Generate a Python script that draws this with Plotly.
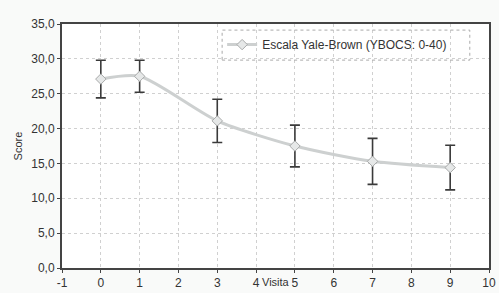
import plotly.graph_objects as go

visits = [0, 1, 3, 5, 7, 9]
score = [27.1, 27.5, 21.1, 17.5, 15.3, 14.4]
err = [2.7, 2.3, 3.1, 3.0, 3.3, 3.2]
series_name = "Escala Yale-Brown (YBOCS: 0-40)"
x_ticks = list(range(-1, 11))
y_ticks = [0, 5, 10, 15, 20, 25, 30, 35]
y_labels = [f"{v:.1f}".replace(".", ",") for v in y_ticks]

font = "Liberation Sans, Arial, sans-serif"

fig = go.Figure()
fig.add_trace(go.Scatter(
    x=visits, y=score, name=series_name, mode="lines+markers",
    line=dict(color="#cdd0d0", width=3, shape="spline", smoothing=0.7),
    marker=dict(symbol="diamond", size=8, color="#e6e8e8",
                line=dict(color="#a8aaaa", width=1)),
    error_y=dict(type="data", array=err, visible=True, color="#3a3a3a",
                 thickness=1.6, width=5),
))

fig.update_layout(
    width=499, height=293,
    margin=dict(l=62, r=10, t=24, b=25),
    paper_bgcolor="#f9faf9", plot_bgcolor="#ffffff",
    font=dict(family=font, size=11, color="#333"),
    showlegend=True,
    legend=dict(x=0.375, y=0.975, xanchor="left", yanchor="top",
                bgcolor="rgba(0,0,0,0)", font=dict(size=12, color="#333"),
                itemwidth=30, borderwidth=0),
    xaxis=dict(range=[-1, 10], tickvals=x_ticks, ticktext=[str(v) for v in x_ticks],
               showgrid=True, gridcolor="#d0d0d0", griddash="dot", gridwidth=1,
               showline=True, linecolor="#444", linewidth=2, mirror=True,
               ticks="outside", ticklen=3, tickcolor="#444", zeroline=False,
               automargin=False, tickfont=dict(size=12, color="#333")),
    yaxis=dict(range=[0, 35], tickvals=y_ticks, ticktext=y_labels,
               showgrid=True, gridcolor="#d0d0d0", griddash="dot", gridwidth=1,
               showline=True, linecolor="#444", linewidth=2, mirror=True,
               ticks="outside", ticklen=3, tickcolor="#444", zeroline=False,
               automargin=False, tickfont=dict(size=12, color="#333"),
               title=dict(text="Score", font=dict(size=11, color="#333"), standoff=6)),
    shapes=[dict(type="rect", xref="paper", yref="paper", x0=0.375, x1=0.955,
                 y0=0.852, y1=0.975, line=dict(color="#aaa", width=1, dash="dot"),
                 fillcolor="rgba(0,0,0,0)")],
    annotations=[dict(text="Visita", xref="paper", yref="paper", x=0.5, y=0,
                      yshift=-14, xanchor="center", yanchor="middle", showarrow=False,
                      font=dict(size=11, color="#333"), bgcolor="#f9faf9")],
)

fig.write_html("out.html", config={"displayModeBar": False},
               post_script="document.body.style.margin='0';document.body.style.overflow='hidden';")
